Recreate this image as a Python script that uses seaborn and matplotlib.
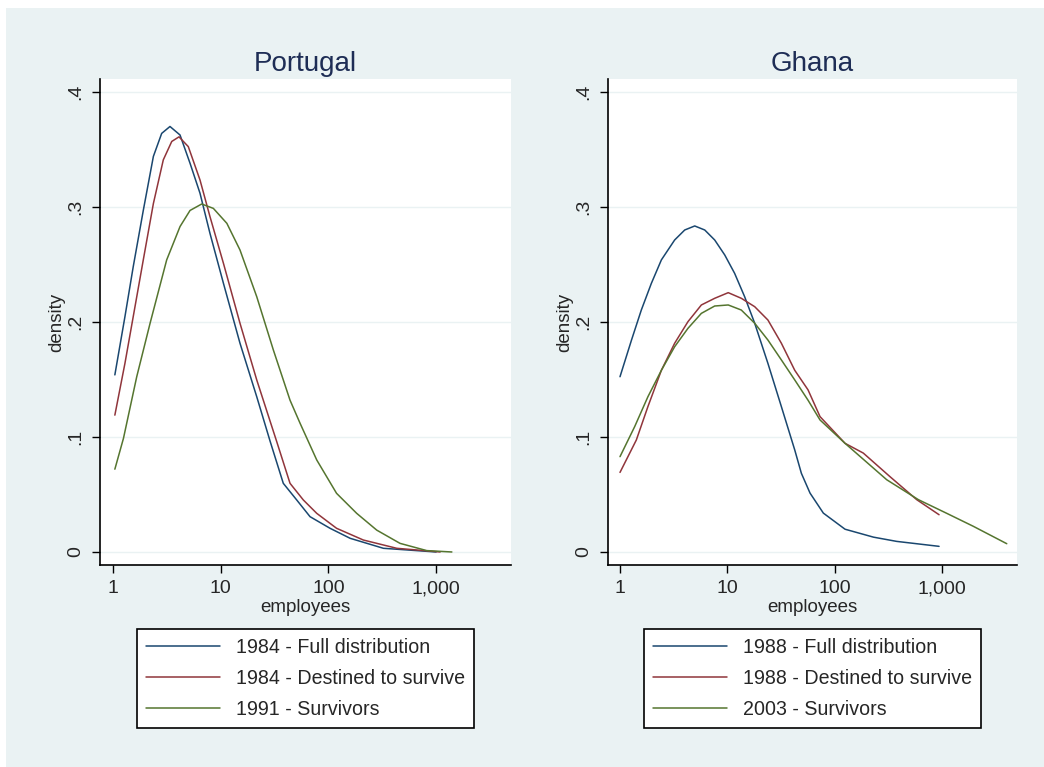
import numpy as np
import pandas as pd
import matplotlib
matplotlib.use("Agg")
import matplotlib.pyplot as plt
import matplotlib.ticker as mticker
from matplotlib.patches import Rectangle
import seaborn as sns

# Stata s2color palette
COLORS = ["#1A476F", "#90353B", "#55752F"]
BG = "#EAF2F3"

# --- Portugal ---
pt_labels = ["1984 - Full distribution", "1984 - Destined to survive", "1991 - Survivors"]
pt_full_x = [1.04, 1.29, 1.54, 1.91, 2.37, 2.83, 3.38, 4.19, 5.19, 6.42, 7.95, 10.6, 15.1, 21.6,
             28.7, 38.1, 50.8, 67.5, 103.5, 159, 324, 1000]
pt_full_y = [0.154, 0.2046, 0.248, 0.297, 0.344, 0.364, 0.370, 0.3626, 0.338, 0.312, 0.277, 0.2336,
             0.1815, 0.135, 0.0965, 0.0597, 0.0452, 0.0307, 0.0206, 0.0119, 0.0032, 0.0]
pt_surv_x = [1.04, 1.29, 1.54, 1.91, 2.37, 2.93, 3.51, 4.10, 5.0, 6.42, 7.95, 10.6, 15.1, 21.6,
             33.1, 44, 58.5, 77.9, 119, 211, 431, 1090]
pt_surv_y = [0.119, 0.164, 0.2046, 0.254, 0.303, 0.341, 0.357, 0.361, 0.3525, 0.3235, 0.2916, 0.251,
             0.1989, 0.1496, 0.096, 0.0597, 0.0452, 0.0336, 0.0206, 0.0104, 0.0032, 0.0]
pt_91_x = [1.04, 1.25, 1.66, 2.21, 3.15, 4.19, 5.19, 6.66, 8.54, 11.4, 15.1, 21.6, 30.8, 44, 54.5,
           77.9, 119, 183, 281, 462, 818, 1400]
pt_91_y = [0.072, 0.0988, 0.1524, 0.199, 0.254, 0.283, 0.297, 0.3026, 0.2988, 0.2858, 0.2626, 0.222,
           0.1757, 0.132, 0.112, 0.080, 0.051, 0.0336, 0.019, 0.0075, 0.0012, 0.0]

# --- Ghana ---
gh_labels = ["1988 - Full distribution", "1988 - Destined to survive", "2003 - Survivors"]
gh_full_x = [1.0, 1.28, 1.58, 1.96, 2.43, 3.23, 4.01, 4.97, 6.16, 7.63, 9.46, 11.7, 14.5, 18, 23.9,
             31.9, 42.5, 49, 59, 78.5, 125, 230, 379, 940]
gh_full_y = [0.1524, 0.1843, 0.2104, 0.2336, 0.254, 0.2713, 0.28, 0.2835, 0.28, 0.2713, 0.2583,
             0.2423, 0.222, 0.1989, 0.164, 0.1264, 0.0887, 0.0684, 0.0512, 0.0338, 0.0198, 0.0129,
             0.0092, 0.0049]
gh_surv_x = [1.0, 1.42, 1.82, 2.43, 3.23, 4.3, 5.73, 7.63, 10.2, 13.5, 18, 23.9, 31.9, 42.5, 56.5,
             73.1, 125, 185, 328, 582, 940]
gh_surv_y = [0.0692, 0.0974, 0.1264, 0.158, 0.1815, 0.2003, 0.2148, 0.2206, 0.2255, 0.2206, 0.2133,
             0.2017, 0.1815, 0.158, 0.141, 0.1177, 0.0945, 0.086, 0.0655, 0.0455, 0.0324]
gh_03_x = [1.0, 1.37, 1.82, 2.43, 3.23, 4.3, 5.73, 7.63, 10.2, 13.5, 18, 23.9, 31.9, 42.5, 56.5,
           73.1, 125, 306, 603, 1109, 1963, 4018]
gh_03_y = [0.0829, 0.109, 0.135, 0.158, 0.1785, 0.1945, 0.2075, 0.2139, 0.2148, 0.2104, 0.1989,
           0.1843, 0.167, 0.1496, 0.132, 0.1148, 0.0945, 0.0628, 0.0455, 0.0336, 0.0223, 0.0072]

xticks = [1, 10, 100, 1000]
yticks = [0, 0.1, 0.2, 0.3, 0.4]
ytick_labels = ["0", ".1", ".2", ".3", ".4"]


def make_frame(labels, xs, ys):
    parts = []
    for lab, x, y in zip(labels, xs, ys):
        parts.append(pd.DataFrame({"employees": x, "density": y, "series": lab}))
    return pd.concat(parts, ignore_index=True)


sns.set_style("white")
plt.rcParams["font.family"] = ["Liberation Sans", "DejaVu Sans"]

fig = plt.figure(figsize=(10.44, 7.67), dpi=100)
fig.patch.set_facecolor("white")
fig.patches.append(Rectangle((6 / 1044, 0), 1, 1 - 8 / 767, transform=fig.transFigure,
                             facecolor=BG, edgecolor="none", zorder=-10))

panels = [
    ("Portugal", pt_labels, [pt_full_x, pt_surv_x, pt_91_x], [pt_full_y, pt_surv_y, pt_91_y],
     [100 / 1044, 0.2634, 0.3937, 0.6336], (0.757, 4960)),
    ("Ghana", gh_labels, [gh_full_x, gh_surv_x, gh_03_x], [gh_full_y, gh_surv_y, gh_03_y],
     [608 / 1044, 0.2634, 0.3918, 0.6336], (0.773, 5010)),
]

for title, labels, xs, ys, pos, xlim in panels:
    ax = fig.add_axes(pos)
    ax.set_facecolor("white")
    df = make_frame(labels, xs, ys)
    sns.lineplot(data=df, x="employees", y="density", hue="series", palette=COLORS,
                 estimator=None, sort=False, linewidth=1.1, ax=ax)
    ax.set_xscale("log")
    ax.set_xlim(*xlim)
    ax.set_ylim(-0.0113, 0.4113)
    ax.set_xticks(xticks)
    ax.xaxis.set_major_formatter(mticker.FuncFormatter(lambda v, p: f"{int(round(v)):,}"))
    ax.xaxis.set_minor_locator(mticker.NullLocator())
    ax.set_yticks(yticks)
    ax.set_yticklabels(ytick_labels, rotation=90, va="center")
    for y in yticks:
        ax.axhline(y, color=BG, lw=1.0, zorder=0)
    for side in ["top", "right"]:
        ax.spines[side].set_visible(False)
    for side in ["left", "bottom"]:
        ax.spines[side].set_color("black")
        ax.spines[side].set_linewidth(1.2)
    ax.tick_params(axis="both", direction="out", length=6, width=1.0, color="black",
                   labelsize=14, pad=5, left=True, bottom=True)
    ax.set_xlabel("employees", fontsize=13.5, labelpad=1)
    ax.set_ylabel("density", fontsize=13.5, labelpad=2)
    ax.set_title(title, fontsize=20, color="#1E2D55", pad=6)
    leg = ax.legend(loc="upper center", bbox_to_anchor=(0.5, -0.1317), ncol=1,
                    fontsize=14.1, frameon=True, fancybox=False, framealpha=1,
                    edgecolor="black", handlelength=3.8, handletextpad=0.8,
                    labelspacing=0.62, borderpad=0.45, borderaxespad=0, title=None)
    leg.get_frame().set_linewidth(1.2)
    for line in leg.get_lines():
        line.set_linewidth(1.1)

fig.savefig("out.png", dpi=100, facecolor=fig.get_facecolor())
